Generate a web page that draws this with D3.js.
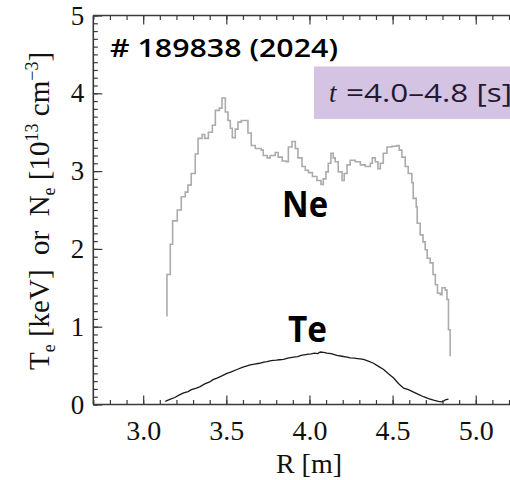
<!DOCTYPE html>
<html><head><meta charset="utf-8">
<script src="https://cdn.jsdelivr.net/npm/d3@7"></script>
<style>
html,body{margin:0;padding:0;background:#fff;overflow:hidden}
svg{display:block}
</style></head>
<body>
<script>
// ---- data ----
const neR = [3.143,3.143,3.163,3.177,3.205,3.229,3.253,3.269,3.289,3.313,3.330,3.354,3.370,3.392,3.416,3.434,3.458,3.474,3.494,3.510,3.524,3.536,3.554,3.570,3.590,3.630,3.650,3.674,3.710,3.722,3.746,3.764,3.794,3.812,3.836,3.861,3.873,3.895,3.915,3.931,3.955,3.975,3.994,4.018,4.045,4.069,4.083,4.099,4.113,4.129,4.143,4.155,4.173,4.196,4.209,4.226,4.245,4.275,4.306,4.336,4.366,4.378,4.396,4.412,4.426,4.444,4.466,4.496,4.526,4.540,4.556,4.576,4.594,4.616,4.624,4.642,4.648,4.666,4.683,4.696,4.708,4.726,4.743,4.757,4.770,4.787,4.797,4.817,4.827,4.836,4.846,4.846];
const neVal = [1.13,1.67,2.06,2.36,2.50,2.67,2.73,2.82,2.97,3.22,3.42,3.47,3.42,3.50,3.59,3.78,3.81,3.94,3.76,3.65,3.55,3.43,3.54,3.63,3.65,3.49,3.33,3.29,3.27,3.20,3.17,3.20,3.24,3.18,3.13,3.12,3.31,3.38,3.29,3.17,3.06,3.01,2.98,2.93,2.88,2.83,2.90,2.99,3.10,3.23,3.17,3.12,2.99,2.88,2.97,3.08,3.14,3.12,3.08,3.06,3.10,3.17,3.12,3.03,3.10,3.23,3.31,3.32,3.33,3.27,3.18,3.06,2.97,2.85,2.65,2.54,2.33,2.18,2.09,1.99,1.88,1.82,1.67,1.54,1.43,1.41,1.50,1.47,1.35,0.96,0.62,0.62];
const teR = [3.133,3.160,3.190,3.215,3.243,3.270,3.290,3.320,3.343,3.370,3.400,3.420,3.444,3.470,3.504,3.530,3.564,3.600,3.644,3.670,3.700,3.725,3.745,3.770,3.800,3.820,3.844,3.870,3.904,3.930,3.950,3.985,4.010,4.030,4.050,4.065,4.085,4.105,4.130,4.165,4.195,4.226,4.245,4.270,4.290,4.325,4.350,4.385,4.415,4.446,4.475,4.506,4.535,4.566,4.595,4.626,4.655,4.686,4.716,4.746,4.775,4.797,4.808,4.817,4.836];
const teVal = [0.04,0.065,0.09,0.12,0.15,0.165,0.19,0.21,0.23,0.265,0.29,0.32,0.34,0.365,0.40,0.42,0.45,0.48,0.51,0.52,0.53,0.545,0.55,0.565,0.57,0.575,0.58,0.595,0.61,0.615,0.63,0.645,0.65,0.66,0.655,0.675,0.67,0.66,0.655,0.63,0.62,0.61,0.60,0.595,0.59,0.58,0.56,0.53,0.49,0.45,0.395,0.34,0.27,0.21,0.19,0.16,0.13,0.10,0.075,0.055,0.04,0.035,0.045,0.06,0.07];
const xTicks = [3.0,3.5,4.0,4.5,5.0];
const xTickLabels = ["3.0","3.5","4.0","4.5","5.0"];
const yTicks = [0,1,2,3,4,5];
const title = "# 189838 (2024)";
const timeLabel = "=4.0\u20134.8 [s]";

// ---- chart ----
const W = 510, H = 480;
const svg = d3.select("body").append("svg").attr("width", W).attr("height", H);
const x = d3.scaleLinear().domain([2.7, 5.2]).range([93.3, 509]);
const y = d3.scaleLinear().domain([0, 5]).range([404.5, 15.5]);
const frameColor = "#3a3a3a";
const serif = "'Liberation Serif','Times New Roman',serif";
const comic = "'Open Sans','DejaVu Sans',sans-serif";

// lavender box
svg.append("rect").attr("x", 314).attr("y", 66.5).attr("width", 200).attr("height", 52.5)
  .attr("fill", "#d5c3e4");

// curves
const ne = neR.map((r,i)=>[r, neVal[i]]);
const te = teR.map((r,i)=>[r, teVal[i]]);
svg.append("path").datum(ne)
  .attr("d", d3.line().x(d=>x(d[0])).y(d=>y(d[1])).curve(d3.curveStepAfter))
  .attr("fill","none").attr("stroke","#ababab").attr("stroke-width",1.6);
svg.append("path").datum(te)
  .attr("d", d3.line().x(d=>x(d[0])).y(d=>y(d[1])))
  .attr("fill","none").attr("stroke","#1a1a1a").attr("stroke-width",1.3);

// axes
const minorX = d3.range(27, 53).map(v=>v/10);
const minorY = d3.range(0, 51).map(v=>v/10);
function styleAxis(g){
  g.select(".domain").remove();
  g.selectAll("line").attr("stroke", frameColor).attr("stroke-width",1.2);
}
const gB = svg.append("g").attr("transform",`translate(0,${y(0)})`)
  .call(d3.axisBottom(x).tickValues(xTicks).tickSize(-9).tickPadding(16)
    .tickFormat((d,i)=>xTickLabels[i]));
styleAxis(gB);
gB.selectAll("text").attr("font-family", serif).attr("font-size", 28).attr("fill","#111");
const gBm = svg.append("g").attr("transform",`translate(0,${y(0)})`)
  .call(d3.axisBottom(x).tickValues(minorX).tickSize(-4.5).tickFormat(""));
styleAxis(gBm);
const gT = svg.append("g").attr("transform",`translate(0,${y(5)})`)
  .call(d3.axisTop(x).tickValues(xTicks).tickSize(-9).tickFormat(""));
styleAxis(gT);
const gTm = svg.append("g").attr("transform",`translate(0,${y(5)})`)
  .call(d3.axisTop(x).tickValues(minorX).tickSize(-4.5).tickFormat(""));
styleAxis(gTm);
const gL = svg.append("g").attr("transform",`translate(${x(2.7)},0)`)
  .call(d3.axisLeft(y).tickValues(yTicks).tickSize(-9).tickPadding(9).tickFormat(d3.format("d")));
styleAxis(gL);
gL.selectAll("text").attr("font-family", serif).attr("font-size", 27).attr("fill","#111");
const gLm = svg.append("g").attr("transform",`translate(${x(2.7)},0)`)
  .call(d3.axisLeft(y).tickValues(minorY).tickSize(-4.5).tickFormat(""));
styleAxis(gLm);

// frame
svg.append("path")
  .attr("d", `M${x(2.7)},${y(5)} L${x(2.7)},${y(0)} M${x(2.7)},${y(0)} L${W+5},${y(0)} M${x(2.7)},${y(5)} L${W+5},${y(5)}`)
  .attr("fill","none").attr("stroke",frameColor).attr("stroke-width",1.6);

// title
svg.append("text").attr("x",110).attr("y",56.5).text(title)
  .attr("font-family",comic).attr("font-weight",600).attr("font-size",25)
  .attr("textLength",228).attr("lengthAdjust","spacingAndGlyphs").attr("fill","#000");

// time label
svg.append("text").attr("x",329).attr("y",102).attr("fill","#24182e")
  .attr("font-family",serif).attr("font-style","italic").attr("font-size",27).text("t");
svg.append("text").attr("x",346).attr("y",102).attr("fill","#24182e")
  .attr("font-family",comic).attr("font-weight",500).attr("font-size",26)
  .attr("textLength",166).attr("lengthAdjust","spacingAndGlyphs").text(timeLabel);

// Ne / Te labels
svg.append("text").attr("x",282).attr("y",217).text("Ne")
  .attr("font-family",comic).attr("font-weight","bold").attr("font-size",35)
  .attr("textLength",46).attr("lengthAdjust","spacingAndGlyphs").attr("fill","#000");
svg.append("text").attr("x",288).attr("y",342).text("Te")
  .attr("font-family",comic).attr("font-weight","bold").attr("font-size",35)
  .attr("textLength",39).attr("lengthAdjust","spacingAndGlyphs").attr("fill","#000");

// x label
svg.append("text").attr("x",309).attr("y",473).attr("text-anchor","middle").text("R [m]")
  .attr("font-family",serif).attr("font-size",28).attr("fill","#111");

// y label
const yl = svg.append("text").attr("transform","translate(49,211) rotate(-90)")
  .attr("text-anchor","middle").attr("font-family",serif).attr("font-size",29).attr("fill","#111")
  .style("white-space","pre");
yl.append("tspan").text("T");
yl.append("tspan").text("e").attr("font-size",18).attr("dy",6);
yl.append("tspan").text(" [keV]  or  N").attr("dy",-6);
yl.append("tspan").text("e").attr("font-size",18).attr("dy",6);
yl.append("tspan").text(" [10").attr("dy",-6);
yl.append("tspan").text("13").attr("font-size",18).attr("dy",-11);
yl.append("tspan").text(" cm").attr("dy",11);
yl.append("tspan").text("\u22123").attr("font-size",18).attr("dy",-11);
yl.append("tspan").text("]").attr("dy",11);
</script>
</body></html>
